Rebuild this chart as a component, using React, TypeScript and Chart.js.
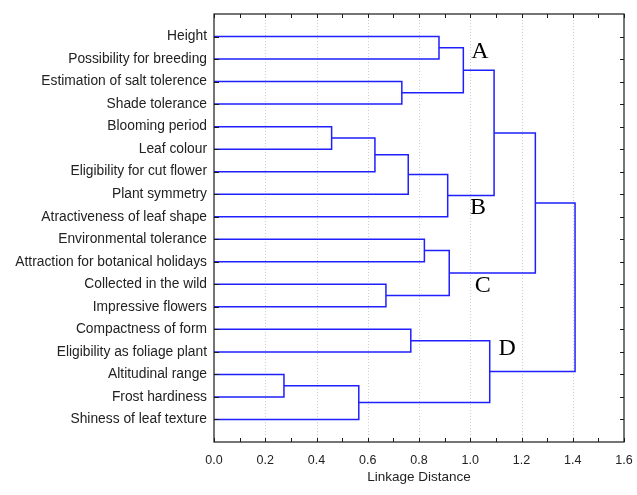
import React, { useEffect, useRef } from 'react';
import { Chart, registerables } from 'chart.js';

Chart.register(...registerables);

// Leaves, top to bottom
const leafLabels = [
  'Height',
  'Possibility for breeding',
  'Estimation of salt tolerence',
  'Shade tolerance',
  'Blooming period',
  'Leaf colour',
  'Eligibility for cut flower',
  'Plant symmetry',
  'Atractiveness of leaf shape',
  'Environmental tolerance',
  'Attraction for botanical holidays',
  'Collected in the wild',
  'Impressive flowers',
  'Compactness of form',
  'Eligibility as foliage plant',
  'Altitudinal range',
  'Frost hardiness',
  'Shiness of leaf texture',
];

// Linkage table: ids < 18 are leaves, id 18 + k is the k-th merge
const mergeLeft = [0, 2, 18, 4, 21, 22, 23, 20, 9, 11, 26, 25, 13, 15, 31, 30, 29];
const mergeRight = [1, 3, 19, 5, 6, 7, 8, 24, 10, 12, 27, 28, 14, 16, 17, 32, 33];
const mergeDistance = [
  0.878, 0.733, 0.973, 0.459, 0.628, 0.758, 0.912, 1.093, 0.821, 0.671, 0.918, 1.254,
  0.768, 0.273, 0.565, 1.076, 1.409,
];

const xTicks = [0, 0.2, 0.4, 0.6, 0.8, 1.0, 1.2, 1.4, 1.6];

// Cluster annotations (data coordinates: distance, leaf index)
const clusterNames = ['A', 'B', 'C', 'D'];
const clusterX = [1.038, 1.03, 1.049, 1.144];
const clusterY = [0.69, 7.62, 11.06, 13.88];

const LINE_COLOR = '#1f1fff';
const TEXT_COLOR = '#222222';
const SANS = '"Liberation Sans", Arial, sans-serif';

function buildDatasets() {
  const nodeX: number[] = leafLabels.map(() => 0);
  const nodeY: number[] = leafLabels.map((_, i) => i);
  const sets: any[] = [];
  mergeDistance.forEach((d, k) => {
    const a = mergeLeft[k];
    const b = mergeRight[k];
    sets.push({
      data: [
        { x: nodeX[a], y: nodeY[a] },
        { x: d, y: nodeY[a] },
        { x: d, y: nodeY[b] },
        { x: nodeX[b], y: nodeY[b] },
      ],
      showLine: true,
      pointRadius: 0,
      pointHoverRadius: 0,
      borderColor: LINE_COLOR,
      borderWidth: 1.5,
      fill: false,
      tension: 0,
      clip: false,
    });
    nodeX.push(d);
    nodeY.push((nodeY[a] + nodeY[b]) / 2);
  });
  return sets;
}

const framePlugin = {
  id: 'dendroFrame',
  beforeDatasetsDraw(chart: any) {
    const { ctx, chartArea, scales } = chart;
    const { top, bottom } = chartArea;
    const x = scales.x;
    ctx.save();
    ctx.strokeStyle = '#cfcfcf';
    ctx.lineWidth = 1;
    ctx.setLineDash([1, 2]);
    xTicks.forEach((v, i) => {
      if (i === 0 || i === xTicks.length - 1) return;
      const px = Math.round(x.getPixelForValue(v)) + 0.5;
      ctx.beginPath();
      ctx.moveTo(px, top);
      ctx.lineTo(px, bottom);
      ctx.stroke();
    });
    ctx.restore();
  },
  afterDatasetsDraw(chart: any) {
    const { ctx, chartArea, scales } = chart;
    const { left, right, top, bottom } = chartArea;
    const x = scales.x;
    const y = scales.y;
    ctx.save();
    ctx.strokeStyle = '#1a1a1a';
    ctx.lineWidth = 1.2;
    ctx.setLineDash([]);
    ctx.strokeRect(left, top, right - left, bottom - top);
    const tl = 4;
    ctx.lineWidth = 1;
    ctx.beginPath();
    // major and minor ticks on top and bottom
    const xs: number[] = [];
    xTicks.forEach((v, i) => {
      xs.push(v);
      if (i < xTicks.length - 1) xs.push((v + xTicks[i + 1]) / 2);
    });
    xs.forEach((v) => {
      const px = Math.round(x.getPixelForValue(v)) + 0.5;
      ctx.moveTo(px, bottom);
      ctx.lineTo(px, bottom - tl);
      ctx.moveTo(px, top);
      ctx.lineTo(px, top + tl);
    });
    leafLabels.forEach((_, i) => {
      const py = Math.round(y.getPixelForValue(i)) + 0.5;
      ctx.moveTo(left, py);
      ctx.lineTo(left + tl + 1, py);
      ctx.moveTo(right, py);
      ctx.lineTo(right - tl, py);
    });
    ctx.stroke();

    ctx.fillStyle = '#000';
    ctx.font = '24px "Liberation Serif", "Times New Roman", serif';
    ctx.textAlign = 'center';
    ctx.textBaseline = 'middle';
    clusterNames.forEach((name, i) => {
      ctx.fillText(name, x.getPixelForValue(clusterX[i]), y.getPixelForValue(clusterY[i]));
    });
    ctx.restore();
  },
};

export default function App() {
  const canvasRef = useRef<HTMLCanvasElement>(null);

  useEffect(() => {
    if (!canvasRef.current) return;
    const chart = new Chart(canvasRef.current, {
      type: 'scatter',
      data: { datasets: buildDatasets() },
      options: {
        animation: false,
        responsive: true,
        maintainAspectRatio: false,
        layout: { padding: { top: 14, right: 13, left: 0, bottom: 0 } },
        plugins: {
          legend: { display: false },
          tooltip: { enabled: false },
        },
        scales: {
          x: {
            type: 'linear',
            position: 'bottom',
            min: 0,
            max: 1.6,
            afterBuildTicks: (s: any) => {
              s.ticks = xTicks.map((v) => ({ value: v }));
            },
            afterFit: (s: any) => {
              s.height = 53;
              s.paddingRight = 0;
              s.paddingLeft = 0;
            },
            grid: { display: false, drawTicks: false },
            border: { display: false },
            ticks: {
              callback: (v: any) => Number(v).toFixed(1),
              color: TEXT_COLOR,
              font: { family: SANS, size: 12.5 },
              padding: 11,
              maxRotation: 0,
              autoSkip: false,
            },
            title: {
              display: true,
              text: 'Linkage Distance',
              color: TEXT_COLOR,
              font: { family: SANS, size: 13.5 },
              padding: { top: 0, bottom: 10 },
            },
          },
          y: {
            type: 'linear',
            position: 'left',
            min: -1,
            max: 18,
            reverse: true,
            afterBuildTicks: (s: any) => {
              s.ticks = leafLabels.map((_, i) => ({ value: i }));
            },
            afterFit: (s: any) => {
              s.width = 214;
              s.paddingTop = 0;
              s.paddingBottom = 0;
            },
            grid: { display: false, drawTicks: false },
            border: { display: false },
            ticks: {
              callback: (v: any) => leafLabels[v] ?? '',
              color: TEXT_COLOR,
              font: { family: SANS, size: 13.8 },
              padding: 7,
              autoSkip: false,
            },
          },
        },
      },
      plugins: [framePlugin],
    });
    return () => chart.destroy();
  }, []);

  return (
    <div style={{ position: 'fixed', left: 0, top: 0, width: 637, height: 495, background: '#fff' }}>
      <canvas ref={canvasRef} />
    </div>
  );
}
